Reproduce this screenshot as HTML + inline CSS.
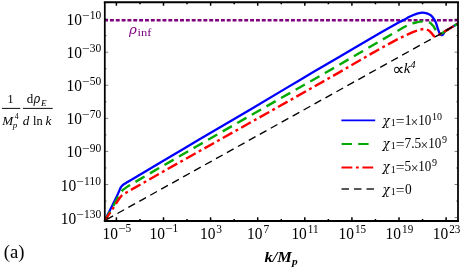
<!DOCTYPE html>
<html><head><meta charset="utf-8"><title>plot</title>
<style>
html,body{margin:0;padding:0;background:#fff;}
body{width:461px;height:268px;overflow:hidden;}
svg{display:block;will-change:transform;}
text{font-family:"Liberation Serif","DejaVu Serif",serif;}
text.dj{font-family:"DejaVu Sans",sans-serif;}
text.dji{font-family:"DejaVu Serif",serif;font-style:italic;}
</style></head><body>
<svg width="461" height="268" viewBox="0 0 461 268">
<rect width="461" height="268" fill="#fff"/>
<defs><clipPath id="cp"><rect x="104.3" y="2.15" width="353.70" height="220.00"/></clipPath></defs>
<g clip-path="url(#cp)" fill="none" stroke-linejoin="round">
<path d="M104.8,20.2H458.0" stroke="#800080" stroke-width="2.5" stroke-dasharray="3.93 1.91" stroke-dashoffset="0.7"/>
<path d="M104.80,220.50 C106.60,216.90 108.40,213.30 110.20,209.70 C111.93,206.23 113.71,202.79 115.40,199.30 C116.55,196.92 117.63,194.51 118.70,192.10 C119.09,191.21 119.40,190.28 119.80,189.40 C120.13,188.68 120.50,187.98 120.90,187.30 C121.17,186.85 121.46,186.40 121.80,186.00 C122.10,185.65 122.44,185.34 122.80,185.05 C123.25,184.69 123.72,184.36 124.20,184.05 C124.79,183.66 125.40,183.31 126.00,182.95 C126.67,182.55 127.33,182.14 128.00,181.74 C138.66,175.42 149.33,169.12 160.00,162.80 C173.33,154.90 186.65,146.97 200.00,139.10 C216.65,129.29 233.37,119.61 250.00,109.77 C266.71,99.88 283.30,89.80 300.00,79.90 C313.30,72.01 326.65,64.21 340.00,56.40 C353.32,48.61 366.63,40.81 380.00,33.10 C386.63,29.27 393.29,25.50 400.00,21.80 C401.46,20.99 403.02,20.38 404.50,19.60 C405.99,18.81 407.40,17.87 408.90,17.10 C410.37,16.34 411.87,15.63 413.40,15.00 C414.87,14.39 416.36,13.82 417.90,13.40 C419.31,13.02 420.74,12.62 422.20,12.60 C423.75,12.58 425.32,12.82 426.80,13.30 C428.26,13.77 429.70,14.44 430.90,15.40 C432.12,16.38 433.00,17.72 433.90,19.00 C434.61,20.00 435.25,21.06 435.70,22.20 C436.72,24.74 437.36,27.43 438.30,30.00 C438.80,31.36 439.22,32.78 440.00,34.00 C440.35,34.55 440.96,35.02 441.60,35.15 C442.09,35.25 442.67,34.98 443.00,34.60 C443.79,33.68 443.96,32.31 444.80,31.43 C445.68,30.53 446.92,30.06 448.00,29.42 C451.32,27.45 454.67,25.54 458.00,23.60" stroke="#0000ff" stroke-width="2.3"/>
<path d="M104.80,220.50 C106.70,217.27 108.63,214.05 110.50,210.80 C112.27,207.72 113.99,204.61 115.70,201.50 C116.83,199.45 117.86,197.34 119.00,195.30 C119.56,194.31 120.15,193.33 120.80,192.40 C121.32,191.66 121.85,190.92 122.50,190.30 C123.26,189.58 124.15,189.02 125.00,188.40 C125.99,187.68 126.95,186.92 128.00,186.30 C139.95,179.19 151.96,172.17 164.00,165.20 C190.96,149.60 217.97,134.07 245.00,118.60 C272.53,102.84 300.18,87.29 327.70,71.50 C342.18,63.19 356.56,54.69 371.00,46.30 C378.99,41.66 386.97,36.97 395.00,32.40 C399.73,29.71 404.36,26.80 409.30,24.50 C411.57,23.45 414.06,22.93 416.50,22.40 C418.84,21.89 421.21,21.42 423.60,21.40 C425.56,21.38 427.62,21.49 429.40,22.30 C430.86,22.96 431.88,24.36 432.90,25.60 C433.90,26.81 434.61,28.24 435.40,29.60 C436.14,30.88 436.46,32.46 437.50,33.50 C438.11,34.11 439.19,34.51 440.00,34.20 C442.90,33.08 445.32,31.00 448.00,29.42 C451.32,27.46 454.67,25.54 458.00,23.60" stroke="#00aa00" stroke-width="2.4" stroke-dasharray="10.6 6.2" stroke-dashoffset="-0.1"/>
<path d="M104.80,220.50 C106.70,217.73 108.63,214.99 110.50,212.20 C112.27,209.56 113.98,206.87 115.70,204.20 C116.81,202.47 117.86,200.70 119.00,199.00 C119.56,198.17 120.15,197.36 120.80,196.60 C121.32,195.99 121.87,195.40 122.50,194.90 C123.28,194.29 124.15,193.81 125.00,193.30 C125.99,192.71 127.00,192.17 128.00,191.60 C140.00,184.77 151.97,177.89 164.00,171.10 C191.31,155.69 218.68,140.39 246.00,125.00 C276.08,108.06 306.19,91.17 336.20,74.10 C347.86,67.47 359.35,60.54 371.00,53.90 C378.95,49.37 386.95,44.95 395.00,40.60 C397.82,39.08 400.70,37.67 403.60,36.30 C406.64,34.87 409.68,33.43 412.80,32.20 C415.08,31.30 417.43,30.54 419.80,29.90 C421.37,29.47 422.97,28.92 424.60,29.00 C425.94,29.06 427.27,29.59 428.40,30.30 C429.76,31.15 430.77,32.47 431.90,33.60 C432.80,34.50 433.27,36.05 434.50,36.40 C435.65,36.72 436.84,35.85 437.90,35.30 C441.36,33.51 444.63,31.38 448.00,29.42 C451.33,27.48 454.67,25.54 458.00,23.60" stroke="#ff0000" stroke-width="2.4" stroke-dasharray="11 3.6 2.9 3.6" stroke-dashoffset="1.2"/>
<path d="M104.8,220.50L437.9,35.30L458,23.60" stroke="#000" stroke-width="1.35" stroke-dasharray="7.65 4.88" stroke-dashoffset="10.64"/>
</g>
<path d="M104.8,2.15H458.0M104.8,220.95H458.0" stroke="#000" stroke-width="1.95" fill="none" stroke-linecap="square"/>
<path d="M104.8,2.15V220.95M458.0,2.15V220.95" stroke="#000" stroke-width="1.75" fill="none"/>
<path d="M116.40,220.95v-3.6M116.40,2.15v3.6M139.95,220.95v-2.0M139.95,2.15v2.0M163.50,220.95v-3.6M163.50,2.15v3.6M187.05,220.95v-2.0M187.05,2.15v2.0M210.60,220.95v-3.6M210.60,2.15v3.6M234.15,220.95v-2.0M234.15,2.15v2.0M257.70,220.95v-3.6M257.70,2.15v3.6M281.25,220.95v-2.0M281.25,2.15v2.0M304.80,220.95v-3.6M304.80,2.15v3.6M328.35,220.95v-2.0M328.35,2.15v2.0M351.90,220.95v-3.6M351.90,2.15v3.6M375.45,220.95v-2.0M375.45,2.15v2.0M399.00,220.95v-3.6M399.00,2.15v3.6M422.55,220.95v-2.0M422.55,2.15v2.0M446.10,220.95v-3.6M446.10,2.15v3.6" stroke="#000" stroke-width="1.5" fill="none"/>
<path d="M104.8,217.58h3.4M458.0,217.58h-3.4M104.8,201.04h1.9M458.0,201.04h-1.9M104.8,184.50h3.4M458.0,184.50h-3.4M104.8,167.96h1.9M458.0,167.96h-1.9M104.8,151.42h3.4M458.0,151.42h-3.4M104.8,134.88h1.9M458.0,134.88h-1.9M104.8,118.34h3.4M458.0,118.34h-3.4M104.8,101.80h1.9M458.0,101.80h-1.9M104.8,85.26h3.4M458.0,85.26h-3.4M104.8,68.72h1.9M458.0,68.72h-1.9M104.8,52.18h3.4M458.0,52.18h-3.4M104.8,35.64h1.9M458.0,35.64h-1.9M104.8,19.10h3.4M458.0,19.10h-3.4" stroke="#000" stroke-width="0.5" fill="none"/>
<g fill="none">
<path d="M341.4,120.35H375.2" stroke="#0000ff" stroke-width="1.9"/>
<path d="M341.6,144.05H374.2" stroke="#00aa00" stroke-width="2" stroke-dasharray="10.4 6.2"/>
<path d="M341.5,167.55H375.2" stroke="#ff0000" stroke-width="2" stroke-dasharray="10.8 3.6 2.9 3.6"/>
<path d="M341.5,189.05H375.2" stroke="#222" stroke-width="1.5" stroke-dasharray="7.5 5"/>
</g>
<path d="M2,108.4H20.3M23,108.4H52.7" stroke="#000" stroke-width="0.95"/>
<text transform="translate(102.46 238.50) scale(0.91 1)" font-size="17.0">10</text>
<text transform="translate(118.17 232.30) scale(1.18 1)" font-size="11.5">−</text>
<text transform="translate(125.42 232.30)" font-size="11.5">5</text>
<text transform="translate(149.56 238.50) scale(0.91 1)" font-size="17.0">10</text>
<text transform="translate(165.27 232.30) scale(1.18 1)" font-size="11.5">−</text>
<text transform="translate(172.52 232.30)" font-size="11.5">1</text>
<text transform="translate(200.01 238.50) scale(0.91 1)" font-size="17.0">10</text>
<text transform="translate(216.29 232.50)" font-size="11.5">3</text>
<text transform="translate(247.11 238.50) scale(0.91 1)" font-size="17.0">10</text>
<text transform="translate(263.39 232.50)" font-size="11.5">7</text>
<text transform="translate(291.39 238.50) scale(0.91 1)" font-size="17.0">10</text>
<text transform="translate(307.87 232.90) scale(0.97 1)" font-size="11.5">11</text>
<text transform="translate(338.49 238.50) scale(0.91 1)" font-size="17.0">10</text>
<text transform="translate(354.97 232.90) scale(0.97 1)" font-size="11.5">15</text>
<text transform="translate(385.59 238.50) scale(0.91 1)" font-size="17.0">10</text>
<text transform="translate(402.07 232.90) scale(0.97 1)" font-size="11.5">19</text>
<text transform="translate(432.69 238.50) scale(0.91 1)" font-size="17.0">10</text>
<text transform="translate(449.17 232.90) scale(0.97 1)" font-size="11.5">23</text>
<text transform="translate(84.09 217.68)" font-size="11.5">130</text>
<text transform="translate(76.28 217.68) scale(1.18 1)" font-size="11.5">−</text>
<text transform="translate(60.68 223.58) scale(0.91 1)" font-size="17.0">10</text>
<text transform="translate(84.09 184.60)" font-size="11.5">110</text>
<text transform="translate(76.28 184.60) scale(1.18 1)" font-size="11.5">−</text>
<text transform="translate(60.68 190.50) scale(0.91 1)" font-size="17.0">10</text>
<text transform="translate(89.84 151.52)" font-size="11.5">90</text>
<text transform="translate(82.03 151.52) scale(1.18 1)" font-size="11.5">−</text>
<text transform="translate(66.43 157.42) scale(0.91 1)" font-size="17.0">10</text>
<text transform="translate(89.84 118.44)" font-size="11.5">70</text>
<text transform="translate(82.03 118.44) scale(1.18 1)" font-size="11.5">−</text>
<text transform="translate(66.43 124.34) scale(0.91 1)" font-size="17.0">10</text>
<text transform="translate(89.84 85.36)" font-size="11.5">50</text>
<text transform="translate(82.03 85.36) scale(1.18 1)" font-size="11.5">−</text>
<text transform="translate(66.43 91.26) scale(0.91 1)" font-size="17.0">10</text>
<text transform="translate(89.84 52.28)" font-size="11.5">30</text>
<text transform="translate(82.03 52.28) scale(1.18 1)" font-size="11.5">−</text>
<text transform="translate(66.43 58.18) scale(0.91 1)" font-size="17.0">10</text>
<text transform="translate(89.84 19.20)" font-size="11.5">10</text>
<text transform="translate(82.03 19.20) scale(1.18 1)" font-size="11.5">−</text>
<text transform="translate(66.43 25.10) scale(0.91 1)" font-size="17.0">10</text>
<text transform="translate(382.49 124.70) scale(0.97 1)" font-size="12.3" class="dji">χ</text>
<text transform="translate(390.72 126.10)" font-size="10">1</text>
<text transform="translate(395.78 125.90)" font-size="15.5">=</text>
<text transform="translate(404.77 124.70) scale(0.97 1)" font-size="13.8">1</text>
<text transform="translate(410.52 126.70)" font-size="13.8">×</text>
<text transform="translate(418.17 124.70) scale(0.95 1)" font-size="13.8">10</text>
<text transform="translate(432.11 119.80)" font-size="10">10</text>
<text transform="translate(382.49 147.90) scale(0.97 1)" font-size="12.3" class="dji">χ</text>
<text transform="translate(390.72 149.30)" font-size="10">1</text>
<text transform="translate(395.78 149.10)" font-size="15.5">=</text>
<text transform="translate(404.52 147.90) scale(0.97 1)" font-size="13.8">7.5</text>
<text transform="translate(420.59 149.90)" font-size="13.8">×</text>
<text transform="translate(428.24 147.90) scale(0.95 1)" font-size="13.8">10</text>
<text transform="translate(441.93 143.00)" font-size="10">9</text>
<text transform="translate(382.49 171.10) scale(0.97 1)" font-size="12.3" class="dji">χ</text>
<text transform="translate(390.72 172.50)" font-size="10">1</text>
<text transform="translate(395.78 172.30)" font-size="15.5">=</text>
<text transform="translate(404.62 171.10) scale(0.97 1)" font-size="13.8">5</text>
<text transform="translate(410.65 173.10)" font-size="13.8">×</text>
<text transform="translate(418.30 171.10) scale(0.95 1)" font-size="13.8">10</text>
<text transform="translate(431.99 166.20)" font-size="10">9</text>
<text transform="translate(382.49 193.60) scale(0.97 1)" font-size="12.3" class="dji">χ</text>
<text transform="translate(390.72 195.00)" font-size="10">1</text>
<text transform="translate(395.78 194.80)" font-size="15.5">=</text>
<text transform="translate(404.89 193.60) scale(0.97 1)" font-size="13.8">0</text>
<text transform="translate(129.12 34.10)" font-size="13.3" class="dji" fill="#800080">ρ</text>
<text transform="translate(137.44 36.10) scale(1.18 1)" font-size="10.6" fill="#800080">inf</text>
<text transform="translate(392.22 74.70)" font-size="17" class="dj">∝</text>
<text transform="translate(403.87 72.70)" font-size="15" font-style="italic">k</text>
<text transform="translate(410.37 67.90)" font-size="10.7" font-style="italic">4</text>
<text transform="translate(7.44 103.20) scale(0.9 1)" font-size="13.4">1</text>
<text transform="translate(26.73 103.20) scale(0.97 1)" font-size="13.4">d</text>
<text transform="translate(33.50 103.20) scale(0.94 1)" font-size="12.1" class="dji">ρ</text>
<text transform="translate(40.91 105.60)" font-size="9.2" font-style="italic">E</text>
<text transform="translate(2.15 124.60)" font-size="13.1" font-style="italic">M</text>
<text transform="translate(14.65 119.10) scale(0.95 1)" font-size="8.3">4</text>
<text transform="translate(12.73 127.75)" font-size="9" font-style="italic">p</text>
<text transform="translate(22.70 124.60)" font-size="13.1" font-style="italic">d</text>
<text transform="translate(33.05 124.60) scale(0.95 1)" font-size="13.1">ln</text>
<text transform="translate(45.62 124.60)" font-size="13.1" font-style="italic">k</text>
<text transform="translate(264.48 262.45) scale(1.13 1)" font-size="14.5" font-style="italic" font-weight="bold">k/M</text>
<text transform="translate(292.09 265.45) scale(1.1 1)" font-size="10.3" font-style="italic" font-weight="bold">p</text>
<text transform="translate(3.68 257.95) scale(1.02 1)" font-size="18.3">(a)</text>
</svg>
</body></html>
